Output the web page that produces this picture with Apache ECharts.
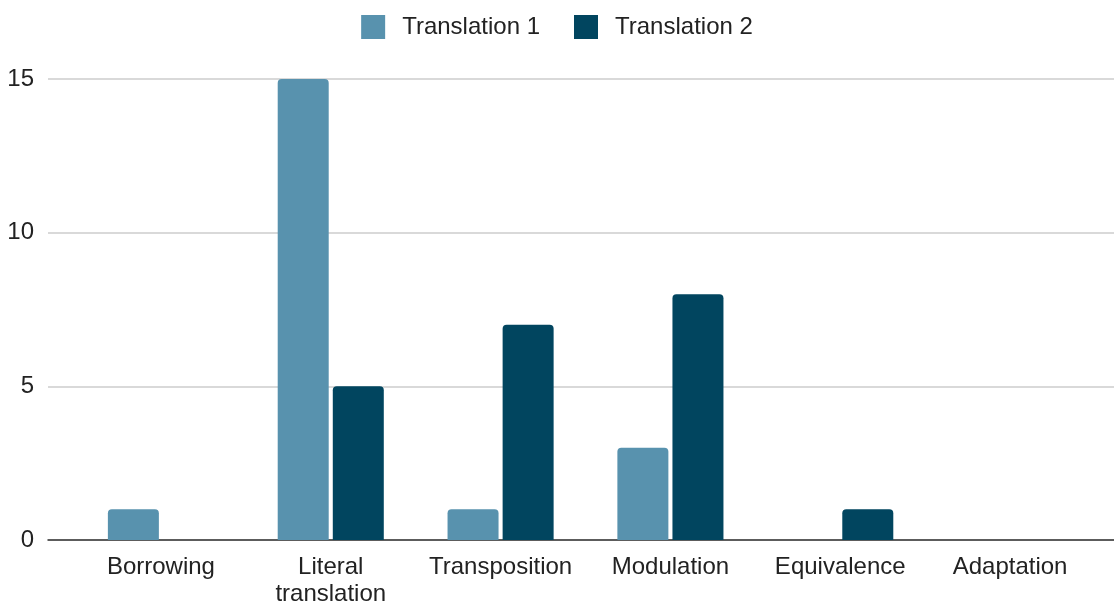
<!DOCTYPE html>
<html>
<head>
<meta charset="utf-8">
<script src="https://cdn.jsdelivr.net/npm/echarts@6/dist/echarts.min.js"></script>
<style>html,body{margin:0;padding:0;background:#fff;}#c{width:1114px;height:604px;}</style>
</head>
<body>
<div id="c"></div>
<script>
const categories = ['Borrowing', 'Literal\ntranslation', 'Transposition', 'Modulation', 'Equivalence', 'Adaptation'];
const seriesNames = ['Translation 1', 'Translation 2'];
const translation1 = [1, 15, 1, 3, 0, 0];
const translation2 = [0, 5, 7, 8, 1, 0];
const yTicks = [0, 5, 10, 15];

const font = '"Liberation Sans", Arial, sans-serif';
const chart = echarts.init(document.getElementById('c'));
chart.setOption({
  animation: false,
  color: ['#5892ae', '#01455f'],
  legend: {
    top: 10, left: 'center',
    itemWidth: 24, itemHeight: 24, itemGap: 34,
    icon: 'rect',
    textStyle: { fontFamily: font, fontSize: 24, color: '#222', padding: [0, 0, 0, 12] },
    data: seriesNames
  },
  grid: [
    { left: 48, right: 0, top: 79, bottom: 64, outerBoundsMode: 'none', containLabel: false },
    { left: 76, right: 19, top: 79, bottom: 64, outerBoundsMode: 'none', containLabel: false }
  ],
  xAxis: [
    { gridIndex: 0, type: 'value', min: 0, max: 1, axisLine: { show: true, lineStyle: { color: '#333', width: 1.5 } },
      axisTick: { show: false }, axisLabel: { show: false }, splitLine: { show: false } },
    { gridIndex: 1, type: 'category', data: categories,
      axisLine: { show: false }, axisTick: { show: false },
      axisLabel: { margin: 14, fontFamily: font, fontSize: 24, color: '#222', lineHeight: 27, interval: 0 } }
  ],
  yAxis: [
    { gridIndex: 0, type: 'value', min: yTicks[0], max: yTicks[yTicks.length - 1], interval: 5,
      axisLine: { show: false }, axisTick: { show: false },
      axisLabel: { margin: 14, fontFamily: font, fontSize: 24, color: '#222', padding: [6, 0, 0, 0] },
      splitLine: { lineStyle: { color: '#cccccc', width: 1.5 } } },
    { gridIndex: 1, type: 'value', min: yTicks[0], max: yTicks[yTicks.length - 1], interval: 5, show: false,
      splitLine: { show: false } }
  ],
  series: [
    { name: seriesNames[0], type: 'bar', xAxisIndex: 1, yAxisIndex: 1, data: translation1,
      barWidth: 51, barGap: '8%', itemStyle: { borderRadius: [4, 4, 0, 0] }, z: 3 },
    { name: seriesNames[1], type: 'bar', xAxisIndex: 1, yAxisIndex: 1, data: translation2,
      barWidth: 51, barGap: '8%', itemStyle: { borderRadius: [4, 4, 0, 0] }, z: 3 }
  ]
});
</script>
</body>
</html>
